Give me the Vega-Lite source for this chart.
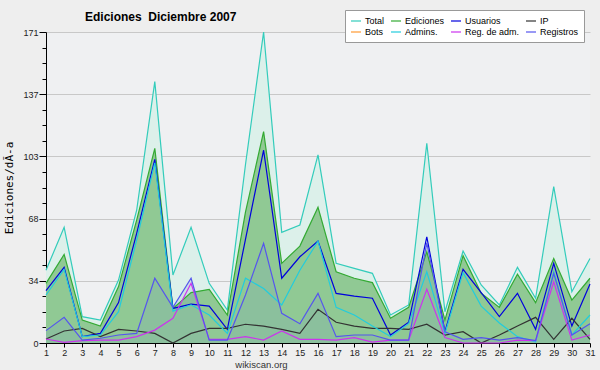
{
"$schema": "https://vega.github.io/schema/vega-lite/v6.json",
"width": 544, "height": 311,
"autosize": {"type": "none"},
"padding": {"left": 46, "top": 32, "right": 10, "bottom": 27},
"background": "#eeeeee",
"config": {"view": {"stroke": null, "fill": "#eff0f2"}, "font": "Liberation Sans"},
"title": {"text": "Ediciones\u00a0 Diciembre 2007", "anchor": "start", "frame": "group", "dx": 39, "offset": -14, "fontSize": 12, "fontWeight": "bold", "font": "Liberation Sans", "color": "#000"},
"datasets": {"main": [
{"d":1,"s":"Total","v":40},{"d":2,"s":"Total","v":63.6},{"d":3,"s":"Total","v":14.5},{"d":4,"s":"Total","v":12.6},{"d":5,"s":"Total","v":34.6},{"d":6,"s":"Total","v":73},{"d":7,"s":"Total","v":143.7},{"d":8,"s":"Total","v":37.4},{"d":9,"s":"Total","v":63.6},{"d":10,"s":"Total","v":32.8},{"d":11,"s":"Total","v":18.1},{"d":12,"s":"Total","v":98},{"d":13,"s":"Total","v":171},{"d":14,"s":"Total","v":60.8},{"d":15,"s":"Total","v":64.9},{"d":16,"s":"Total","v":103.4},{"d":17,"s":"Total","v":43.8},{"d":18,"s":"Total","v":41},{"d":19,"s":"Total","v":38.3},{"d":20,"s":"Total","v":15.4},{"d":21,"s":"Total","v":20.9},{"d":22,"s":"Total","v":109.8},{"d":23,"s":"Total","v":17.2},{"d":24,"s":"Total","v":50.6},{"d":25,"s":"Total","v":31.9},{"d":26,"s":"Total","v":20.9},{"d":27,"s":"Total","v":41.6},{"d":28,"s":"Total","v":24.6},{"d":29,"s":"Total","v":86},{"d":30,"s":"Total","v":28.2},{"d":31,"s":"Total","v":46.5},
{"d":1,"s":"Ediciones","v":32.8},{"d":2,"s":"Ediciones","v":48.7},{"d":3,"s":"Ediciones","v":12.6},{"d":4,"s":"Ediciones","v":9.3},{"d":5,"s":"Ediciones","v":31},{"d":6,"s":"Ediciones","v":67.6},{"d":7,"s":"Ediciones","v":107},{"d":8,"s":"Ediciones","v":19},{"d":9,"s":"Ediciones","v":27.7},{"d":10,"s":"Ediciones","v":29.5},{"d":11,"s":"Ediciones","v":15.4},{"d":12,"s":"Ediciones","v":72},{"d":13,"s":"Ediciones","v":116.2},{"d":14,"s":"Ediciones","v":43.8},{"d":15,"s":"Ediciones","v":53.3},{"d":16,"s":"Ediciones","v":74.6},{"d":17,"s":"Ediciones","v":39.2},{"d":18,"s":"Ediciones","v":35.6},{"d":19,"s":"Ediciones","v":33.2},{"d":20,"s":"Ediciones","v":13.6},{"d":21,"s":"Ediciones","v":19.6},{"d":22,"s":"Ediciones","v":50.2},{"d":23,"s":"Ediciones","v":12.6},{"d":24,"s":"Ediciones","v":48},{"d":25,"s":"Ediciones","v":27.3},{"d":26,"s":"Ediciones","v":19.6},{"d":27,"s":"Ediciones","v":37.8},{"d":28,"s":"Ediciones","v":22.2},{"d":29,"s":"Ediciones","v":46.5},{"d":30,"s":"Ediciones","v":23.6},{"d":31,"s":"Ediciones","v":35.6},
{"d":1,"s":"Usuarios","v":28.8},{"d":2,"s":"Usuarios","v":41.6},{"d":3,"s":"Usuarios","v":3.5},{"d":4,"s":"Usuarios","v":5.3},{"d":5,"s":"Usuarios","v":22.2},{"d":6,"s":"Usuarios","v":60.3},{"d":7,"s":"Usuarios","v":101},{"d":8,"s":"Usuarios","v":19},{"d":9,"s":"Usuarios","v":21.4},{"d":10,"s":"Usuarios","v":20.3},{"d":11,"s":"Usuarios","v":7.5},{"d":12,"s":"Usuarios","v":57},{"d":13,"s":"Usuarios","v":106},{"d":14,"s":"Usuarios","v":35.6},{"d":15,"s":"Usuarios","v":47.4},{"d":16,"s":"Usuarios","v":56},{"d":17,"s":"Usuarios","v":27.3},{"d":18,"s":"Usuarios","v":25.8},{"d":19,"s":"Usuarios","v":24.6},{"d":20,"s":"Usuarios","v":4.4},{"d":21,"s":"Usuarios","v":11.4},{"d":22,"s":"Usuarios","v":58.4},{"d":23,"s":"Usuarios","v":6.2},{"d":24,"s":"Usuarios","v":40.5},{"d":25,"s":"Usuarios","v":27.7},{"d":26,"s":"Usuarios","v":14.5},{"d":27,"s":"Usuarios","v":27.3},{"d":28,"s":"Usuarios","v":7.5},{"d":29,"s":"Usuarios","v":43.8},{"d":30,"s":"Usuarios","v":9.3},{"d":31,"s":"Usuarios","v":32.4},
{"d":1,"s":"IP","v":2.2},{"d":2,"s":"IP","v":6.6},{"d":3,"s":"IP","v":8},{"d":4,"s":"IP","v":3.5},{"d":5,"s":"IP","v":7.5},{"d":6,"s":"IP","v":6.6},{"d":7,"s":"IP","v":5.3},{"d":8,"s":"IP","v":0},{"d":9,"s":"IP","v":5.3},{"d":10,"s":"IP","v":8},{"d":11,"s":"IP","v":8},{"d":12,"s":"IP","v":10.3},{"d":13,"s":"IP","v":9.3},{"d":14,"s":"IP","v":7.5},{"d":15,"s":"IP","v":5.3},{"d":16,"s":"IP","v":18.5},{"d":17,"s":"IP","v":11.4},{"d":18,"s":"IP","v":9.3},{"d":19,"s":"IP","v":8},{"d":20,"s":"IP","v":8},{"d":21,"s":"IP","v":7.5},{"d":22,"s":"IP","v":10.3},{"d":23,"s":"IP","v":4.4},{"d":24,"s":"IP","v":6.2},{"d":25,"s":"IP","v":0},{"d":26,"s":"IP","v":4.4},{"d":27,"s":"IP","v":9.3},{"d":28,"s":"IP","v":14.1},{"d":29,"s":"IP","v":2},{"d":30,"s":"IP","v":13.6},{"d":31,"s":"IP","v":2},
{"d":1,"s":"Admins.","v":26.4},{"d":2,"s":"Admins.","v":40.5},{"d":3,"s":"Admins.","v":3.5},{"d":4,"s":"Admins.","v":4.4},{"d":5,"s":"Admins.","v":17.2},{"d":6,"s":"Admins.","v":56.6},{"d":7,"s":"Admins.","v":99},{"d":8,"s":"Admins.","v":17.5},{"d":9,"s":"Admins.","v":21},{"d":10,"s":"Admins.","v":15.4},{"d":11,"s":"Admins.","v":5.3},{"d":12,"s":"Admins.","v":35.6},{"d":13,"s":"Admins.","v":30},{"d":14,"s":"Admins.","v":20.9},{"d":15,"s":"Admins.","v":40},{"d":16,"s":"Admins.","v":56},{"d":17,"s":"Admins.","v":19.6},{"d":18,"s":"Admins.","v":15.4},{"d":19,"s":"Admins.","v":9.3},{"d":20,"s":"Admins.","v":3.5},{"d":21,"s":"Admins.","v":10.6},{"d":22,"s":"Admins.","v":39.2},{"d":23,"s":"Admins.","v":5.3},{"d":24,"s":"Admins.","v":38.7},{"d":25,"s":"Admins.","v":20.3},{"d":26,"s":"Admins.","v":11},{"d":27,"s":"Admins.","v":3.5},{"d":28,"s":"Admins.","v":0.5},{"d":29,"s":"Admins.","v":39.2},{"d":30,"s":"Admins.","v":4.4},{"d":31,"s":"Admins.","v":15.4},
{"d":1,"s":"Reg. de adm.","v":2.2},{"d":2,"s":"Reg. de adm.","v":0.4},{"d":3,"s":"Reg. de adm.","v":1.3},{"d":4,"s":"Reg. de adm.","v":1.6},{"d":5,"s":"Reg. de adm.","v":1.6},{"d":6,"s":"Reg. de adm.","v":3.5},{"d":7,"s":"Reg. de adm.","v":7.1},{"d":8,"s":"Reg. de adm.","v":13.6},{"d":9,"s":"Reg. de adm.","v":32.8},{"d":10,"s":"Reg. de adm.","v":2},{"d":11,"s":"Reg. de adm.","v":2},{"d":12,"s":"Reg. de adm.","v":3.5},{"d":13,"s":"Reg. de adm.","v":1.6},{"d":14,"s":"Reg. de adm.","v":6.6},{"d":15,"s":"Reg. de adm.","v":2},{"d":16,"s":"Reg. de adm.","v":2},{"d":17,"s":"Reg. de adm.","v":1.6},{"d":18,"s":"Reg. de adm.","v":3},{"d":19,"s":"Reg. de adm.","v":0.5},{"d":20,"s":"Reg. de adm.","v":1.6},{"d":21,"s":"Reg. de adm.","v":1.6},{"d":22,"s":"Reg. de adm.","v":29.5},{"d":23,"s":"Reg. de adm.","v":3},{"d":24,"s":"Reg. de adm.","v":0},{"d":25,"s":"Reg. de adm.","v":0},{"d":26,"s":"Reg. de adm.","v":0},{"d":27,"s":"Reg. de adm.","v":1.6},{"d":28,"s":"Reg. de adm.","v":1.3},{"d":29,"s":"Reg. de adm.","v":33.7},{"d":30,"s":"Reg. de adm.","v":1.6},{"d":31,"s":"Reg. de adm.","v":4.4},
{"d":1,"s":"Registros","v":6.8},{"d":2,"s":"Registros","v":14.1},{"d":3,"s":"Registros","v":1.6},{"d":4,"s":"Registros","v":2.6},{"d":5,"s":"Registros","v":4.4},{"d":6,"s":"Registros","v":5.3},{"d":7,"s":"Registros","v":35.6},{"d":8,"s":"Registros","v":19.6},{"d":9,"s":"Registros","v":35.6},{"d":10,"s":"Registros","v":1.6},{"d":11,"s":"Registros","v":1.6},{"d":12,"s":"Registros","v":26.4},{"d":13,"s":"Registros","v":54.8},{"d":14,"s":"Registros","v":16.3},{"d":15,"s":"Registros","v":10.6},{"d":16,"s":"Registros","v":27.3},{"d":17,"s":"Registros","v":3.5},{"d":18,"s":"Registros","v":4.4},{"d":19,"s":"Registros","v":4.4},{"d":20,"s":"Registros","v":1.6},{"d":21,"s":"Registros","v":1.6},{"d":22,"s":"Registros","v":55},{"d":23,"s":"Registros","v":6.2},{"d":24,"s":"Registros","v":2},{"d":25,"s":"Registros","v":3},{"d":26,"s":"Registros","v":1.6},{"d":27,"s":"Registros","v":3},{"d":28,"s":"Registros","v":1.3},{"d":29,"s":"Registros","v":38.3},{"d":30,"s":"Registros","v":4.4},{"d":31,"s":"Registros","v":10.6}
]},
"data": {"name": "main"},
"encoding": {
  "x": {"field": "d", "type": "quantitative", "scale": {"domain": [1, 31], "nice": false, "zero": false},
        "axis": {"values": [1,2,3,4,5,6,7,8,9,10,11,12,13,14,15,16,17,18,19,20,21,22,23,24,25,26,27,28,29,30,31], "format": "d", "grid": false, "tickSize": 4, "tickColor": "#000", "domainColor": "#000", "labelFontSize": 9, "labelColor": "#222", "labelPadding": 1, "labelFlush": false, "title": "wikiscan.org", "titleFontSize": 9.5, "titleFontWeight": "normal", "titleColor": "#333", "titlePadding": 2, "titleX": 215, "titleAlign": "center"}},
  "y": {"field": "v", "type": "quantitative", "scale": {"domain": [0, 171], "nice": false},
        "axis": {"values": [0,8.55,17.1,25.65,34.2,42.75,51.3,59.85,68.4,76.95,85.5,94.05,102.6,111.15,119.7,128.25,136.8,145.35,153.9,162.45,171],
                 "labelExpr": "abs(datum.value/34.2 - round(datum.value/34.2)) < 0.01 ? format(datum.value, '.0f') : ''",
                 "tickSize": {"condition": {"test": "abs(datum.value/34.2 - round(datum.value/34.2)) < 0.01", "value": 7}, "value": 4},
                 "gridOpacity": {"condition": {"test": "abs(datum.value/34.2 - round(datum.value/34.2)) < 0.01 && datum.value > 0", "value": 1}, "value": 0},
                 "gridColor": "#c8c8c8", "tickColor": "#000", "domainColor": "#000", "labelFontSize": 9, "labelColor": "#222", "labelPadding": 1,
                 "title": "Ediciones/dÃ-a", "titleFont": "DejaVu Sans Mono", "titleFontSize": 11, "titleFontWeight": "normal", "titleColor": "#000", "titlePadding": 8}}
},
"layer": [
  {"transform": [{"filter": "datum.s === 'Total'"}], "mark": {"type": "area", "color": "#dcf0ea", "opacity": 1}},
  {"transform": [{"filter": "datum.s === 'Ediciones'"}], "mark": {"type": "area", "color": "#90c994", "opacity": 1}},
  {"transform": [{"filter": "datum.s === 'Registros'"}], "mark": {"type": "area", "color": "#6f8fd0", "opacity": 0.15}},
  {"mark": {"type": "line", "strokeWidth": 1.2},
   "encoding": {"color": {"field": "s", "type": "nominal",
      "scale": {"domain": ["Total","Ediciones","Usuarios","IP","Bots","Admins.","Reg. de adm.","Registros"],
                "range": ["#33ccbb","#33aa33","#0000dd","#333333","#ff9933","#22ccdd","#cc33ee","#5555ee"]},
      "legend": {"title": null, "orient": "none", "legendX": 299, "legendY": -22, "columns": 4, "direction": "horizontal",
                 "symbolType": "stroke", "symbolSize": 100, "symbolStrokeWidth": 1.2, "labelFontSize": 9, "labelColor": "#000",
                 "labelOffset": 3, "columnPadding": 3, "rowPadding": 0, "padding": 5, "fillColor": "#ffffff", "strokeColor": "#999999"}}}},
  {"data": {"values": [{"t": "CC BY-SA 3.0"}]},
   "mark": {"type": "text", "align": "right", "baseline": "middle", "dy": 20, "dx": -2, "fontSize": 7.5, "color": "#444"},
   "encoding": {"x": {"datum": 31}, "y": {"datum": 0}, "text": {"field": "t"}}}
]
}
